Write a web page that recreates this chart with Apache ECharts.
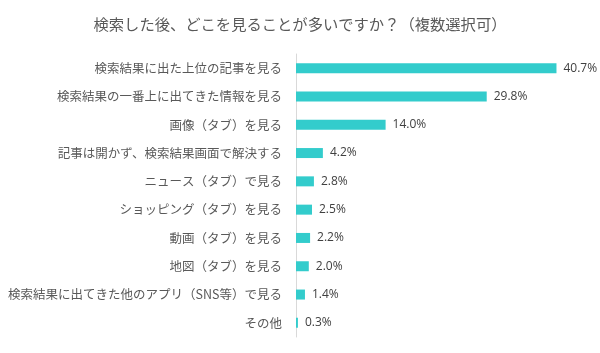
<!DOCTYPE html>
<html>
<head>
<meta charset="utf-8">
<script src="https://cdn.jsdelivr.net/npm/echarts@6/dist/echarts.min.js"></script>
<style>
  html, body { margin: 0; padding: 0; background: #fff; }
  #chart { width: 600px; height: 353px; }
</style>
</head>
<body>
<div id="chart"></div>
<script>
// 項目（上から順）
var categories = [
  '検索結果に出た上位の記事を見る',
  '検索結果の一番上に出てきた情報を見る',
  '画像（タブ）を見る',
  '記事は開かず、検索結果画面で解決する',
  'ニュース（タブ）で見る',
  'ショッピング（タブ）を見る',
  '動画（タブ）を見る',
  '地図（タブ）を見る',
  '検索結果に出てきた他のアプリ（SNS等）で見る',
  'その他'
];
// 割合（%）
var values = [40.7, 29.8, 14.0, 4.2, 2.8, 2.5, 2.2, 2.0, 1.4, 0.3];

var titleText = '検索した後、どこを見ることが多いですか？（複数選択可）';

var myChart = echarts.init(document.getElementById('chart'));
myChart.setOption({
  animation: false,
  textStyle: { fontFamily: '"Noto Sans CJK JP", sans-serif' },
  title: {
    text: titleText,
    left: 'center',
    top: 12,
    textStyle: { fontSize: 15.3, fontWeight: 'normal', color: '#595959' }
  },
  grid: { left: 296, top: 54, height: 283, right: 16 },
  xAxis: {
    type: 'value',
    min: 0,
    max: 45,
    show: false
  },
  yAxis: {
    type: 'category',
    inverse: true,
    data: categories,
    axisLine: { lineStyle: { color: '#d9d9d9' } },
    axisTick: { show: false },
    axisLabel: { color: '#595959', fontSize: 12.5, margin: 14 }
  },
  series: [{
    type: 'bar',
    data: values,
    barWidth: 10,
    itemStyle: { color: '#33cccc' },
    label: {
      show: true,
      position: 'right',
      distance: 7,
      color: '#404040',
      fontSize: 12,
      fontFamily: '"Open Sans", sans-serif',
      formatter: function (p) { return p.value.toFixed(1) + '%'; }
    }
  }]
});
</script>
</body>
</html>
